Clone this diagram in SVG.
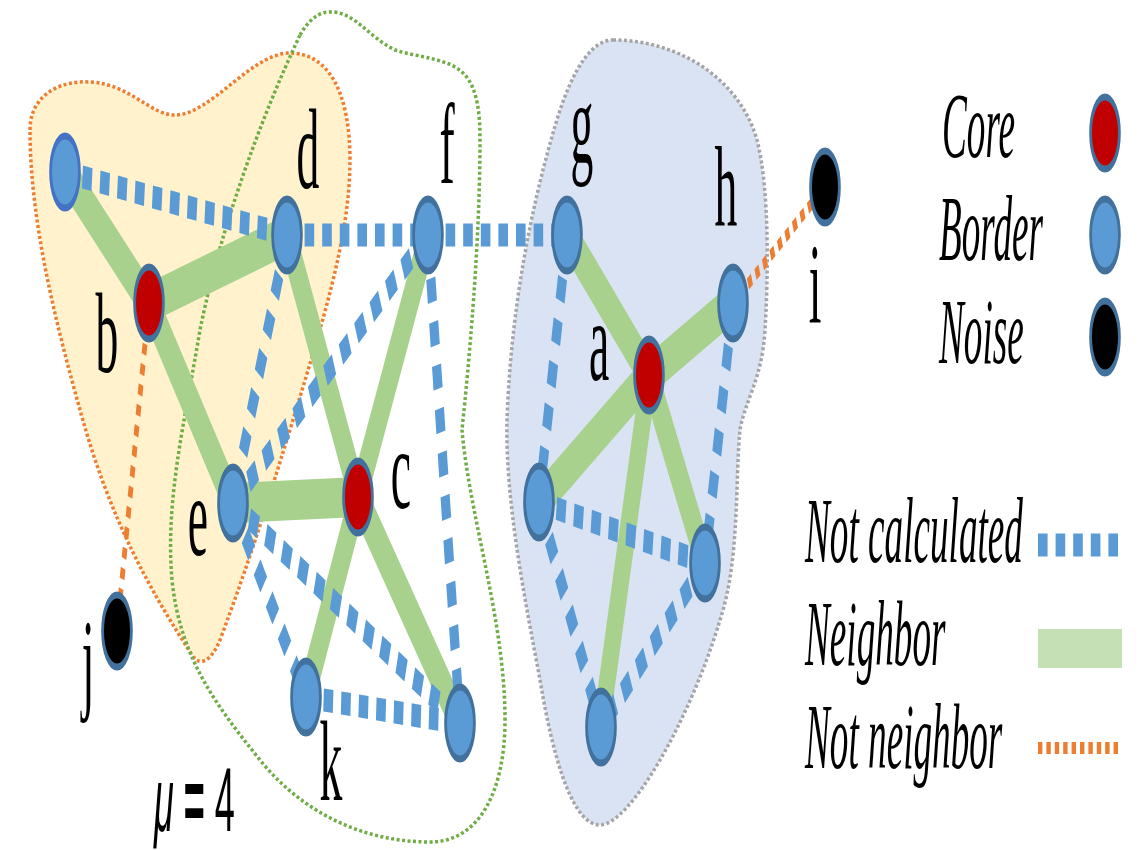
<svg xmlns="http://www.w3.org/2000/svg" width="1140" height="850" viewBox="0 0 1140 850">
<style>
.blob{stroke-width:3.5;stroke-dasharray:3 2.5;}
.nb{stroke:#A9D18E;stroke-width:40;fill:none;}
.nc{stroke:#5B9BD5;stroke-width:23;stroke-dasharray:24 20;fill:none;}
.nn{stroke:#ED7D31;stroke-width:12;stroke-dasharray:11 10;fill:none;}
.border{fill:#5B9BD5;stroke:#41719C;stroke-width:7;}
.core{fill:#C00000;stroke:#41719C;stroke-width:7;}
.noise{fill:#000000;stroke:#41719C;stroke-width:7;}
.lbl{font-family:"Liberation Serif","Times New Roman",serif;font-size:114px;fill:#000;text-anchor:middle;}
.leg{font-family:"Liberation Serif","Times New Roman",serif;font-size:93px;font-style:italic;fill:#000;}
</style>
<rect width="1140" height="850" fill="#ffffff"/>
<g id="blobs">
<path id="blob-orange" class="blob" fill="#FFF2CC" stroke="#ED7D31" d="M30,130 C30,95 60,80 90,82 C130,84 150,115 175,115 C210,115 250,55 288,53 C330,52 350,95 350,160 C350,240 320,330 290,430 C265,510 250,560 220,640 C212,660 200,668 192,655 C150,590 110,520 80,410 C55,320 30,220 30,130 Z"/>
<path id="blob-blue" class="blob" fill="#DAE3F3" stroke="#A5A5A5" d="M613,40 C680,40 740,80 757,140 C770,190 768,280 765,330 C762,380 745,400 740,430 C735,480 740,560 720,620 C690,720 630,825 600,825 C575,825 555,770 540,680 C525,600 505,500 507,420 C510,330 525,230 553,133 C565,90 585,40 613,40 Z"/>
<path id="blob-green" class="blob" fill="none" stroke="#70AD47" d="M300,35 C310,18 320,11 333,12 C355,13 370,38 395,50 C420,58 450,58 465,75 C478,90 480,115 480,140 C480,260 465,400 462,430 C470,520 505,620 505,720 C505,790 480,842 430,842 C360,842 300,810 260,760 C220,710 180,660 172,580 C165,500 185,420 200,330 C220,230 260,120 300,35 Z"/>
</g>
<g transform="scale(0.4 1)">
<g id="connectors">
<line class="nb" x1="162.5" y1="172" x2="372.5" y2="303"/>
<line class="nb" x1="372.5" y1="303" x2="717.5" y2="235"/>
<line class="nb" x1="372.5" y1="303" x2="582.5" y2="503"/>
<line class="nb" x1="717.5" y1="235" x2="895" y2="497"/>
<line class="nb" x1="582.5" y1="503" x2="895" y2="497"/>
<line class="nb" x1="895" y1="497" x2="1070" y2="235"/>
<line class="nb" x1="895" y1="497" x2="765" y2="697"/>
<line class="nb" x1="895" y1="497" x2="1150" y2="723"/>
<line class="nb" x1="1417.5" y1="235" x2="1622.5" y2="375"/>
<line class="nb" x1="1832.5" y1="303" x2="1622.5" y2="375"/>
<line class="nb" x1="1347.5" y1="502" x2="1622.5" y2="375"/>
<line class="nb" x1="1622.5" y1="375" x2="1502.5" y2="727"/>
<line class="nb" x1="1622.5" y1="375" x2="1762.5" y2="563"/>
<line class="nc" x1="162.5" y1="172" x2="717.5" y2="235"/>
<line class="nc" x1="717.5" y1="235" x2="1070" y2="235"/>
<line class="nc" x1="1070" y1="235" x2="1417.5" y2="235"/>
<line class="nc" x1="717.5" y1="235" x2="582.5" y2="503"/>
<line class="nc" x1="582.5" y1="503" x2="1070" y2="235"/>
<line class="nc" x1="582.5" y1="503" x2="765" y2="697"/>
<line class="nc" x1="582.5" y1="503" x2="1150" y2="723"/>
<line class="nc" x1="765" y1="697" x2="1150" y2="723"/>
<line class="nc" x1="1070" y1="235" x2="1150" y2="723"/>
<line class="nc" x1="1417.5" y1="235" x2="1347.5" y2="502"/>
<line class="nc" x1="1347.5" y1="502" x2="1502.5" y2="727"/>
<line class="nc" x1="1347.5" y1="502" x2="1762.5" y2="563"/>
<line class="nc" x1="1762.5" y1="563" x2="1502.5" y2="727"/>
<line class="nc" x1="1832.5" y1="303" x2="1762.5" y2="563"/>
<line class="nn" x1="372.5" y1="303" x2="292.5" y2="631"/>
<line class="nn" x1="1832.5" y1="303" x2="2062.5" y2="187"/>
</g>
<g id="node-n1"><circle cx="162.5" cy="172" r="36" fill="#5B9BD5" stroke="#4472C4" stroke-width="7"/></g>
<g id="node-d"><circle class="border" cx="717.5" cy="235" r="36"/><text class="lbl" x="770" y="188">d</text></g>
<g id="node-b"><circle class="core" cx="372.5" cy="303" r="36"/><text class="lbl" x="267.5" y="372">b</text></g>
<g id="node-f"><circle class="border" cx="1070" cy="235" r="36"/><text class="lbl" x="1117.5" y="183">f</text></g>
<g id="node-g"><circle class="border" cx="1417.5" cy="235" r="36"/><text class="lbl" x="1455" y="163">g</text></g>
<g id="node-h"><circle class="border" cx="1832.5" cy="303" r="36"/><text class="lbl" x="1815" y="225">h</text></g>
<g id="node-a"><circle class="core" cx="1622.5" cy="375" r="36"/><text class="lbl" x="1497.5" y="380">a</text></g>
<g id="node-i"><circle class="noise" cx="2062.5" cy="187" r="36"/><text class="lbl" x="2037.5" y="323">i</text></g>
<g id="node-e"><circle class="border" cx="582.5" cy="503" r="36"/><text class="lbl" x="495" y="555">e</text></g>
<g id="node-c"><circle class="core" cx="895" cy="497" r="36"/><text class="lbl" x="1002.5" y="508">c</text></g>
<g id="node-j"><circle class="noise" cx="292.5" cy="631" r="36"/><text class="lbl" x="220" y="699">j</text></g>
<g id="node-k"><circle class="border" cx="765" cy="697" r="36"/><text class="lbl" x="827.5" y="800">k</text></g>
<g id="node-m"><circle class="border" cx="1150" cy="723" r="36"/></g>
<g id="node-p"><circle class="border" cx="1347.5" cy="502" r="36"/></g>
<g id="node-q"><circle class="border" cx="1762.5" cy="563" r="36"/></g>
<g id="node-r"><circle class="border" cx="1502.5" cy="727" r="36"/></g>
<g id="mu"><text x="385" y="831" font-family="'Liberation Sans',Arial,sans-serif" font-size="90" fill="#000"><tspan font-style="italic">μ</tspan> <tspan font-weight="bold">=</tspan> 4</text></g>
<g id="legend">
<text class="leg" x="2355" y="157">Core</text>
<circle class="core" cx="2762.5" cy="133" r="36"/>
<text class="leg" x="2347.5" y="260">Border</text>
<circle class="border" cx="2762.5" cy="235" r="36"/>
<text class="leg" x="2347.5" y="363">Noise</text>
<circle class="noise" cx="2762.5" cy="337" r="36"/>
<text class="leg" x="2012.5" y="562">Not calculated</text>
<line class="nc" x1="2595" y1="545" x2="2800" y2="545" stroke-dasharray="22 22"/>
<text class="leg" x="2012.5" y="665">Neighbor</text>
<rect x="2595" y="629" width="210" height="39" fill="#C5E0B4"/>
<text class="leg" x="2012.5" y="768">Not neighbor</text>
<line class="nn" x1="2595" y1="748" x2="2797" y2="748" stroke-width="13"/>
</g>
</g>
</svg>
